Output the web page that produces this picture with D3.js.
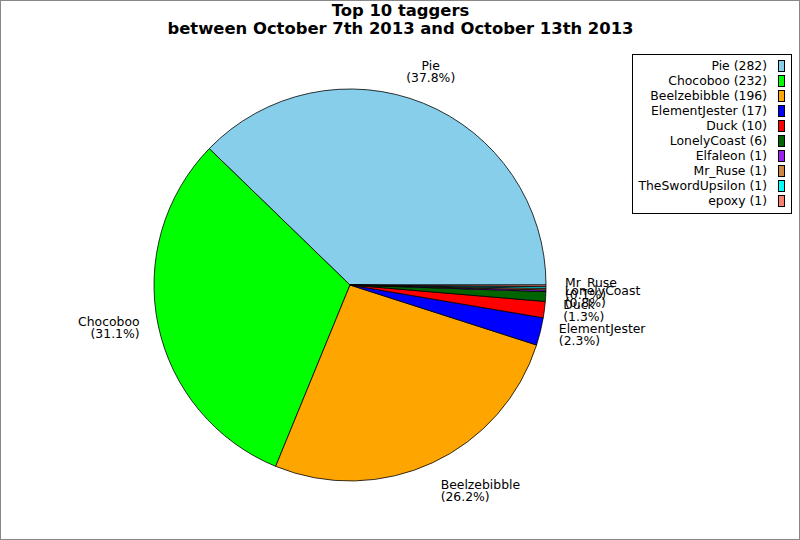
<!DOCTYPE html>
<html>
<head>
<meta charset="utf-8">
<script src="https://cdn.jsdelivr.net/npm/d3@7"></script>
<style>
  body { margin: 0; background: #fff; }
  svg text { font-family: "DejaVu Sans", sans-serif; }
</style>
</head>
<body>
<div id="chart"></div>
<script>
// data
var names = ["Pie", "Chocoboo", "Beelzebibble", "ElementJester", "Duck",
             "LonelyCoast", "Elfaleon", "Mr_Ruse", "TheSwordUpsilon", "epoxy"];
var counts = [282, 232, 196, 17, 10, 6, 1, 1, 1, 1];
var colors = ["#87ceeb", "#00ff00", "#ffa500", "#0000ff", "#ff0000",
              "#006400", "#a020f0", "#cd853f", "#00ffff", "#fa8072"];
// slices whose labels do not show on the original
var hiddenLabels = ["Elfaleon", "TheSwordUpsilon", "epoxy"];
var titleLines = ["Top 10 taggers", "between October 7th 2013 and October 13th 2013"];

var width = 800, height = 540,
    cx = 350, cy = 285, radius = 196, labelR = 215;

var svg = d3.select("#chart").append("svg")
    .attr("width", width)
    .attr("height", height);

svg.append("rect")
    .attr("x", 0.5).attr("y", 0.5)
    .attr("width", width - 1).attr("height", height - 1)
    .attr("fill", "#fff")
    .attr("stroke", "#888");

// title
svg.append("g").selectAll("text")
  .data(titleLines)
  .enter().append("text")
    .attr("x", 400.5)
    .attr("y", function(d, i) { return 16 + i * 18; })
    .attr("text-anchor", "middle")
    .attr("font-weight", "bold")
    .attr("font-size", 16.4)
    .text(function(d) { return d; });

var total = d3.sum(counts);
var data = names.map(function(n, i) { return {name: n, value: counts[i], color: colors[i]}; });

// counterclockwise from 3 o'clock
var pie = d3.pie()
    .sort(null)
    .value(function(d) { return d.value; })
    .startAngle(Math.PI / 2)
    .endAngle(Math.PI / 2 - 2 * Math.PI);

var arc = d3.arc().innerRadius(0).outerRadius(radius);

var g = svg.append("g").attr("transform", "translate(" + cx + "," + cy + ")");

var arcs = pie(data);

g.selectAll("path")
  .data(arcs)
  .enter().append("path")
    .attr("d", arc)
    .attr("fill", function(d) { return d.data.color; })
    .attr("stroke", "#000")
    .attr("stroke-width", 0.8);

var fmt = d3.format(".1f");

var labels = g.selectAll("text.label")
  .data(arcs.filter(function(d) { return hiddenLabels.indexOf(d.data.name) < 0; }))
  .enter().append("text")
    .attr("class", "label")
    .attr("font-size", 12.4)
    .each(function(d) {
      var a = Math.PI / 2 - (d.startAngle + d.endAngle) / 2;
      a = ((a % (2 * Math.PI)) + 2 * Math.PI) % (2 * Math.PI);
      var x = labelR * Math.cos(a), y = -labelR * Math.sin(a);
      var deg = a * 180 / Math.PI;
      var anchor, base;
      if (deg >= 45 && deg <= 135) { anchor = "middle"; base = y - 15.5; }
      else if (deg > 225 && deg < 315) { anchor = Math.cos(a) > 0 ? "start" : "end"; base = y + 9; }
      else { anchor = Math.cos(a) > 0 ? "start" : "end"; base = y - 3; }
      var t = d3.select(this).attr("text-anchor", anchor);
      t.append("tspan").attr("x", x).attr("y", base).text(d.data.name);
      t.append("tspan").attr("x", x).attr("y", base + 12)
        .text("(" + fmt(d.data.value / total * 100) + "%)");
    });

// legend
var legend = svg.append("g").attr("class", "legend");
legend.append("rect")
    .attr("x", 632.5).attr("y", 54.5)
    .attr("width", 159).attr("height", 159)
    .attr("fill", "#fff")
    .attr("stroke", "#000");

var rows = legend.selectAll("g.row")
  .data(data)
  .enter().append("g")
    .attr("class", "row")
    .attr("transform", function(d, i) { return "translate(0," + (70 + i * 15) + ")"; });

rows.append("text")
    .attr("x", 767)
    .attr("y", 0)
    .attr("text-anchor", "end")
    .attr("font-size", 12.4)
    .text(function(d) { return d.name + " (" + d.value + ")"; });

rows.append("rect")
    .attr("x", 778.5).attr("y", -9.5)
    .attr("width", 6).attr("height", 11)
    .attr("fill", function(d) { return d.color; })
    .attr("stroke", "#000");
</script>
</body>
</html>
